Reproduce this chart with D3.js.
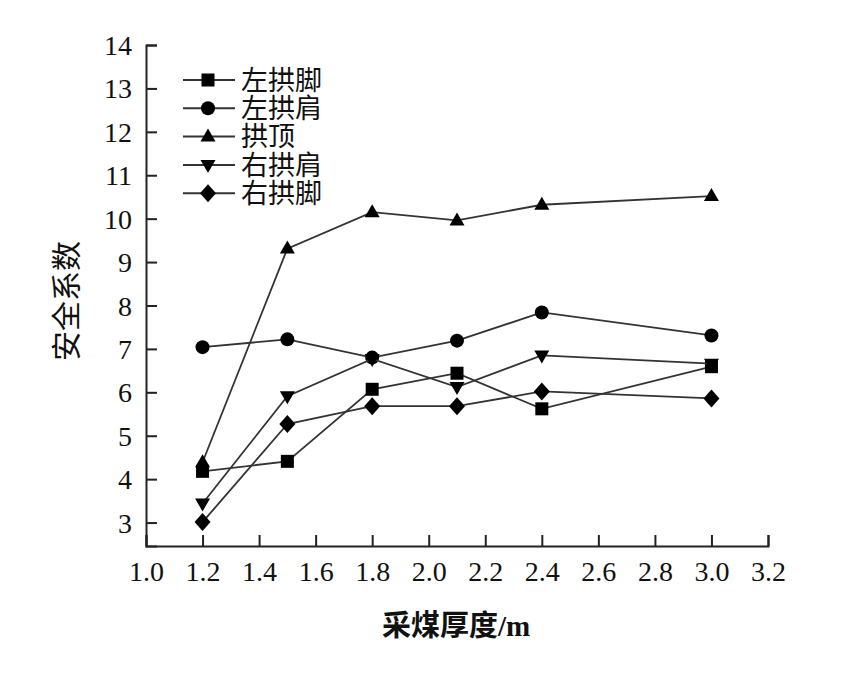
<!DOCTYPE html>
<html>
<head>
<meta charset="utf-8">
<script src="https://cdn.jsdelivr.net/npm/d3@7"></script>
<style>
  body { margin: 0; background: #fff; }
  svg text { fill: #111; }
</style>
</head>
<body>
<div id="chart"></div>
<script>
// thickness of coal seam (m)
var thickness = [1.2, 1.5, 1.8, 2.1, 2.4, 3.0];
var seriesNames = ["左拱脚", "左拱肩", "拱顶", "右拱肩", "右拱脚"];
var leftFoot = [4.18, 4.41, 6.07, 6.44, 5.62, 6.59];
var leftShoulder = [7.04, 7.22, 6.80, 7.19, 7.84, 7.31];
var crown = [4.39, 9.31, 10.15, 9.96, 10.32, 10.52];
var rightShoulder = [3.44, 5.91, 6.77, 6.12, 6.85, 6.66];
var rightFoot = [3.01, 5.27, 5.68, 5.68, 6.02, 5.86];
var xTicks = [1.0, 1.2, 1.4, 1.6, 1.8, 2.0, 2.2, 2.4, 2.6, 2.8, 3.0, 3.2];
var yTicks = [3, 4, 5, 6, 7, 8, 9, 10, 11, 12, 13, 14];

var seriesValues = [leftFoot, leftShoulder, crown, rightShoulder, rightFoot];
var markerTypes = ["square", "circle", "up", "down", "diamond"];

var width = 841, height = 692;
var margin = { top: 45, right: 73, bottom: 146, left: 146 };

var svg = d3.select("#chart").append("svg")
  .attr("width", width).attr("height", height);

var x = d3.scaleLinear([1.0, 3.2], [margin.left, width - margin.right]);
var y = d3.scaleLinear([2.46, 14], [height - margin.bottom, margin.top]);

var serif = "'Liberation Serif', 'Times New Roman', 'DejaVu Serif', serif";
var cjk = "'Liberation Serif', 'Times New Roman', 'Noto Sans CJK SC', serif";

// axes with inward ticks
var xAxis = svg.append("g")
  .attr("transform", "translate(0," + y(2.46) + ")")
  .call(d3.axisBottom(x).tickValues(xTicks).tickSize(-11).tickPadding(20)
    .tickFormat(d3.format(".1f")));
var yAxis = svg.append("g")
  .attr("transform", "translate(" + x(1.0) + ",0)")
  .call(d3.axisLeft(y).tickValues(yTicks).tickSize(-11).tickPadding(14));

[xAxis, yAxis].forEach(function (g) {
  g.attr("font-family", null).attr("font-size", null);
  g.select(".domain").attr("stroke", "#222").attr("stroke-width", 2);
  g.selectAll(".tick line").attr("stroke", "#222").attr("stroke-width", 2);
  g.selectAll(".tick text")
    .style("font-family", serif)
    .style("font-size", "28px")
    .attr("fill", "#111");
});
xAxis.selectAll(".tick text").attr("dy", "0.55em");
yAxis.selectAll(".tick text").attr("dy", "0.34em");

// axis titles
svg.append("text")
  .attr("x", 456).attr("y", 636)
  .attr("text-anchor", "middle")
  .style("font-family", cjk)
  .style("font-size", "29px")
  .style("font-weight", "bold")
  .text("采煤厚度/m");

svg.append("text")
  .attr("transform", "translate(77,301) rotate(-90)")
  .attr("text-anchor", "middle")
  .style("font-family", cjk)
  .style("font-size", "30px")
  .text("安全系数");

function drawMarker(g, type) {
  if (type === "square") {
    g.append("rect").attr("x", -6.5).attr("y", -6.5).attr("width", 13).attr("height", 13);
  } else if (type === "circle") {
    g.append("circle").attr("r", 7);
  } else if (type === "up") {
    g.append("path").attr("d", "M0,-8L7.5,5L-7.5,5Z");
  } else if (type === "down") {
    g.append("path").attr("d", "M0,8L7.5,-5L-7.5,-5Z");
  } else {
    g.append("path").attr("d", "M0,-9L8,0L0,9L-8,0Z");
  }
}

var line = d3.line()
  .x(function (d) { return x(d.t); })
  .y(function (d) { return y(d.v); });

seriesValues.forEach(function (vals, i) {
  var pts = vals.map(function (v, j) { return { t: thickness[j], v: v }; });
  svg.append("path")
    .datum(pts)
    .attr("fill", "none")
    .attr("stroke", "#333")
    .attr("stroke-width", 1.8)
    .attr("d", line);
  svg.append("g")
    .selectAll("g")
    .data(pts)
    .join("g")
    .attr("transform", function (d) { return "translate(" + x(d.t) + "," + y(d.v) + ")"; })
    .attr("fill", "#000")
    .each(function () { drawMarker(d3.select(this), markerTypes[i]); });
});

// legend
var legend = svg.append("g").attr("transform", "translate(183,80)");
seriesNames.forEach(function (name, i) {
  var row = legend.append("g").attr("transform", "translate(0," + i * 28.3 + ")");
  row.append("line").attr("x1", 0).attr("x2", 52)
    .attr("stroke", "#333").attr("stroke-width", 2);
  var m = row.append("g").attr("transform", "translate(25,0)").attr("fill", "#000");
  drawMarker(m, markerTypes[i]);
  row.append("text")
    .attr("x", 58).attr("y", 0).attr("dy", "0.36em")
    .style("font-family", cjk)
    .style("font-size", "27px")
    .text(name);
});
</script>
</body>
</html>
